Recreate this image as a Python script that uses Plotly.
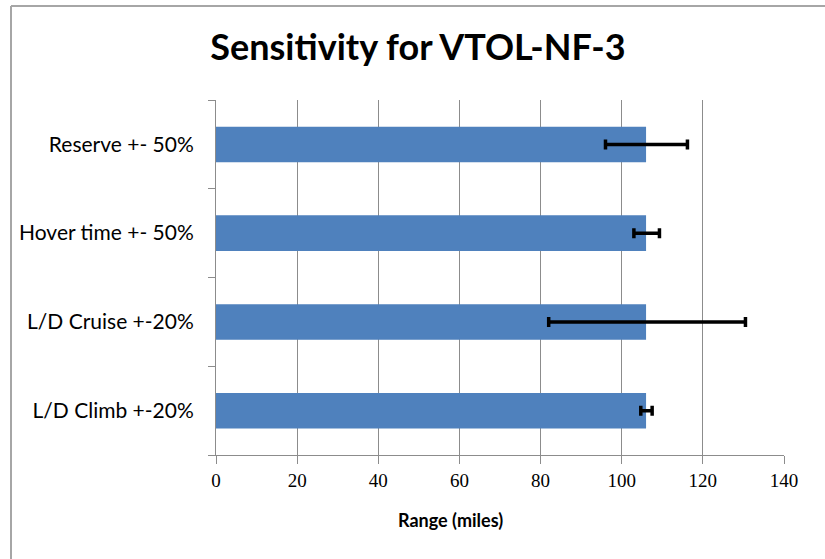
import plotly.graph_objects as go

categories = ["L/D Climb +-20%", "L/D Cruise +-20%", "Hover time +- 50%", "Reserve +- 50%"]
range_miles = [106, 106, 106, 106]
err_plus = [1.5, 24.5, 3.3, 10.2]
err_minus = [1.3, 24.0, 3.0, 10.0]
x_ticks = [0, 20, 40, 60, 80, 100, 120, 140]

x_left = (11 - 216) / 568
x_right = (825 - 216) / 568
y_top = (455 - 6) / 355
y_bottom = (455 - 559) / 355

fig = go.Figure()
fig.add_trace(go.Bar(
    y=categories, x=range_miles, orientation="h",
    marker=dict(color="#4F81BD", line=dict(width=0)),
    width=0.4,
    error_x=dict(type="data", symmetric=False, array=err_plus, arrayminus=err_minus,
                 color="black", thickness=3.5, width=5),
))

fig.update_layout(
    width=825, height=559,
    margin=dict(l=216, r=41, t=100, b=104, autoexpand=False),
    paper_bgcolor="white", plot_bgcolor="white",
    showlegend=False,
    title=dict(text="Sensitivity for VTOL-NF-3", x=418 / 825, xanchor="center", y=1 - 47 / 559, yanchor="middle",
               font=dict(family="Lato", size=36, color="black", weight="bold")),
    xaxis=dict(range=[0, 140], tickvals=x_ticks, showgrid=True, gridcolor="#8c8c8c", gridwidth=1,
               showline=True, linecolor="#8c8c8c", linewidth=1,
               ticks="outside", ticklen=8, tickcolor="#8c8c8c",
               tickfont=dict(family="Liberation Serif", size=19, color="black"),
               zeroline=False, automargin=False),
    yaxis=dict(showgrid=False, showline=True, linecolor="#8c8c8c", linewidth=1,
               ticks="outside", ticklen=7, tickcolor="#8c8c8c", tickson="boundaries",
               tickfont=dict(family="Lato", size=21, color="black"), ticklabelstandoff=17,
               automargin=False),
    bargap=0.6,
    annotations=[dict(text="<b>Range (miles)</b>", xref="paper", yref="paper",
                      x=(450 - 216) / 568, y=(455 - 520) / 355, xanchor="center", yanchor="middle",
                      showarrow=False, font=dict(family="Lato", size=18, color="black"))],
    shapes=[
        dict(type="line", xref="paper", yref="paper", x0=x_left, x1=x_right, y0=y_top, y1=y_top,
             line=dict(color="#a6a6a6", width=2)),
        dict(type="line", xref="paper", yref="paper", x0=x_left, x1=x_left, y0=y_bottom, y1=y_top,
             line=dict(color="#a6a6a6", width=2)),
    ],
)

fig.write_html("out.html", config={"displayModeBar": False},
               post_script="document.body.style.margin='0';document.body.style.overflow='hidden';")
